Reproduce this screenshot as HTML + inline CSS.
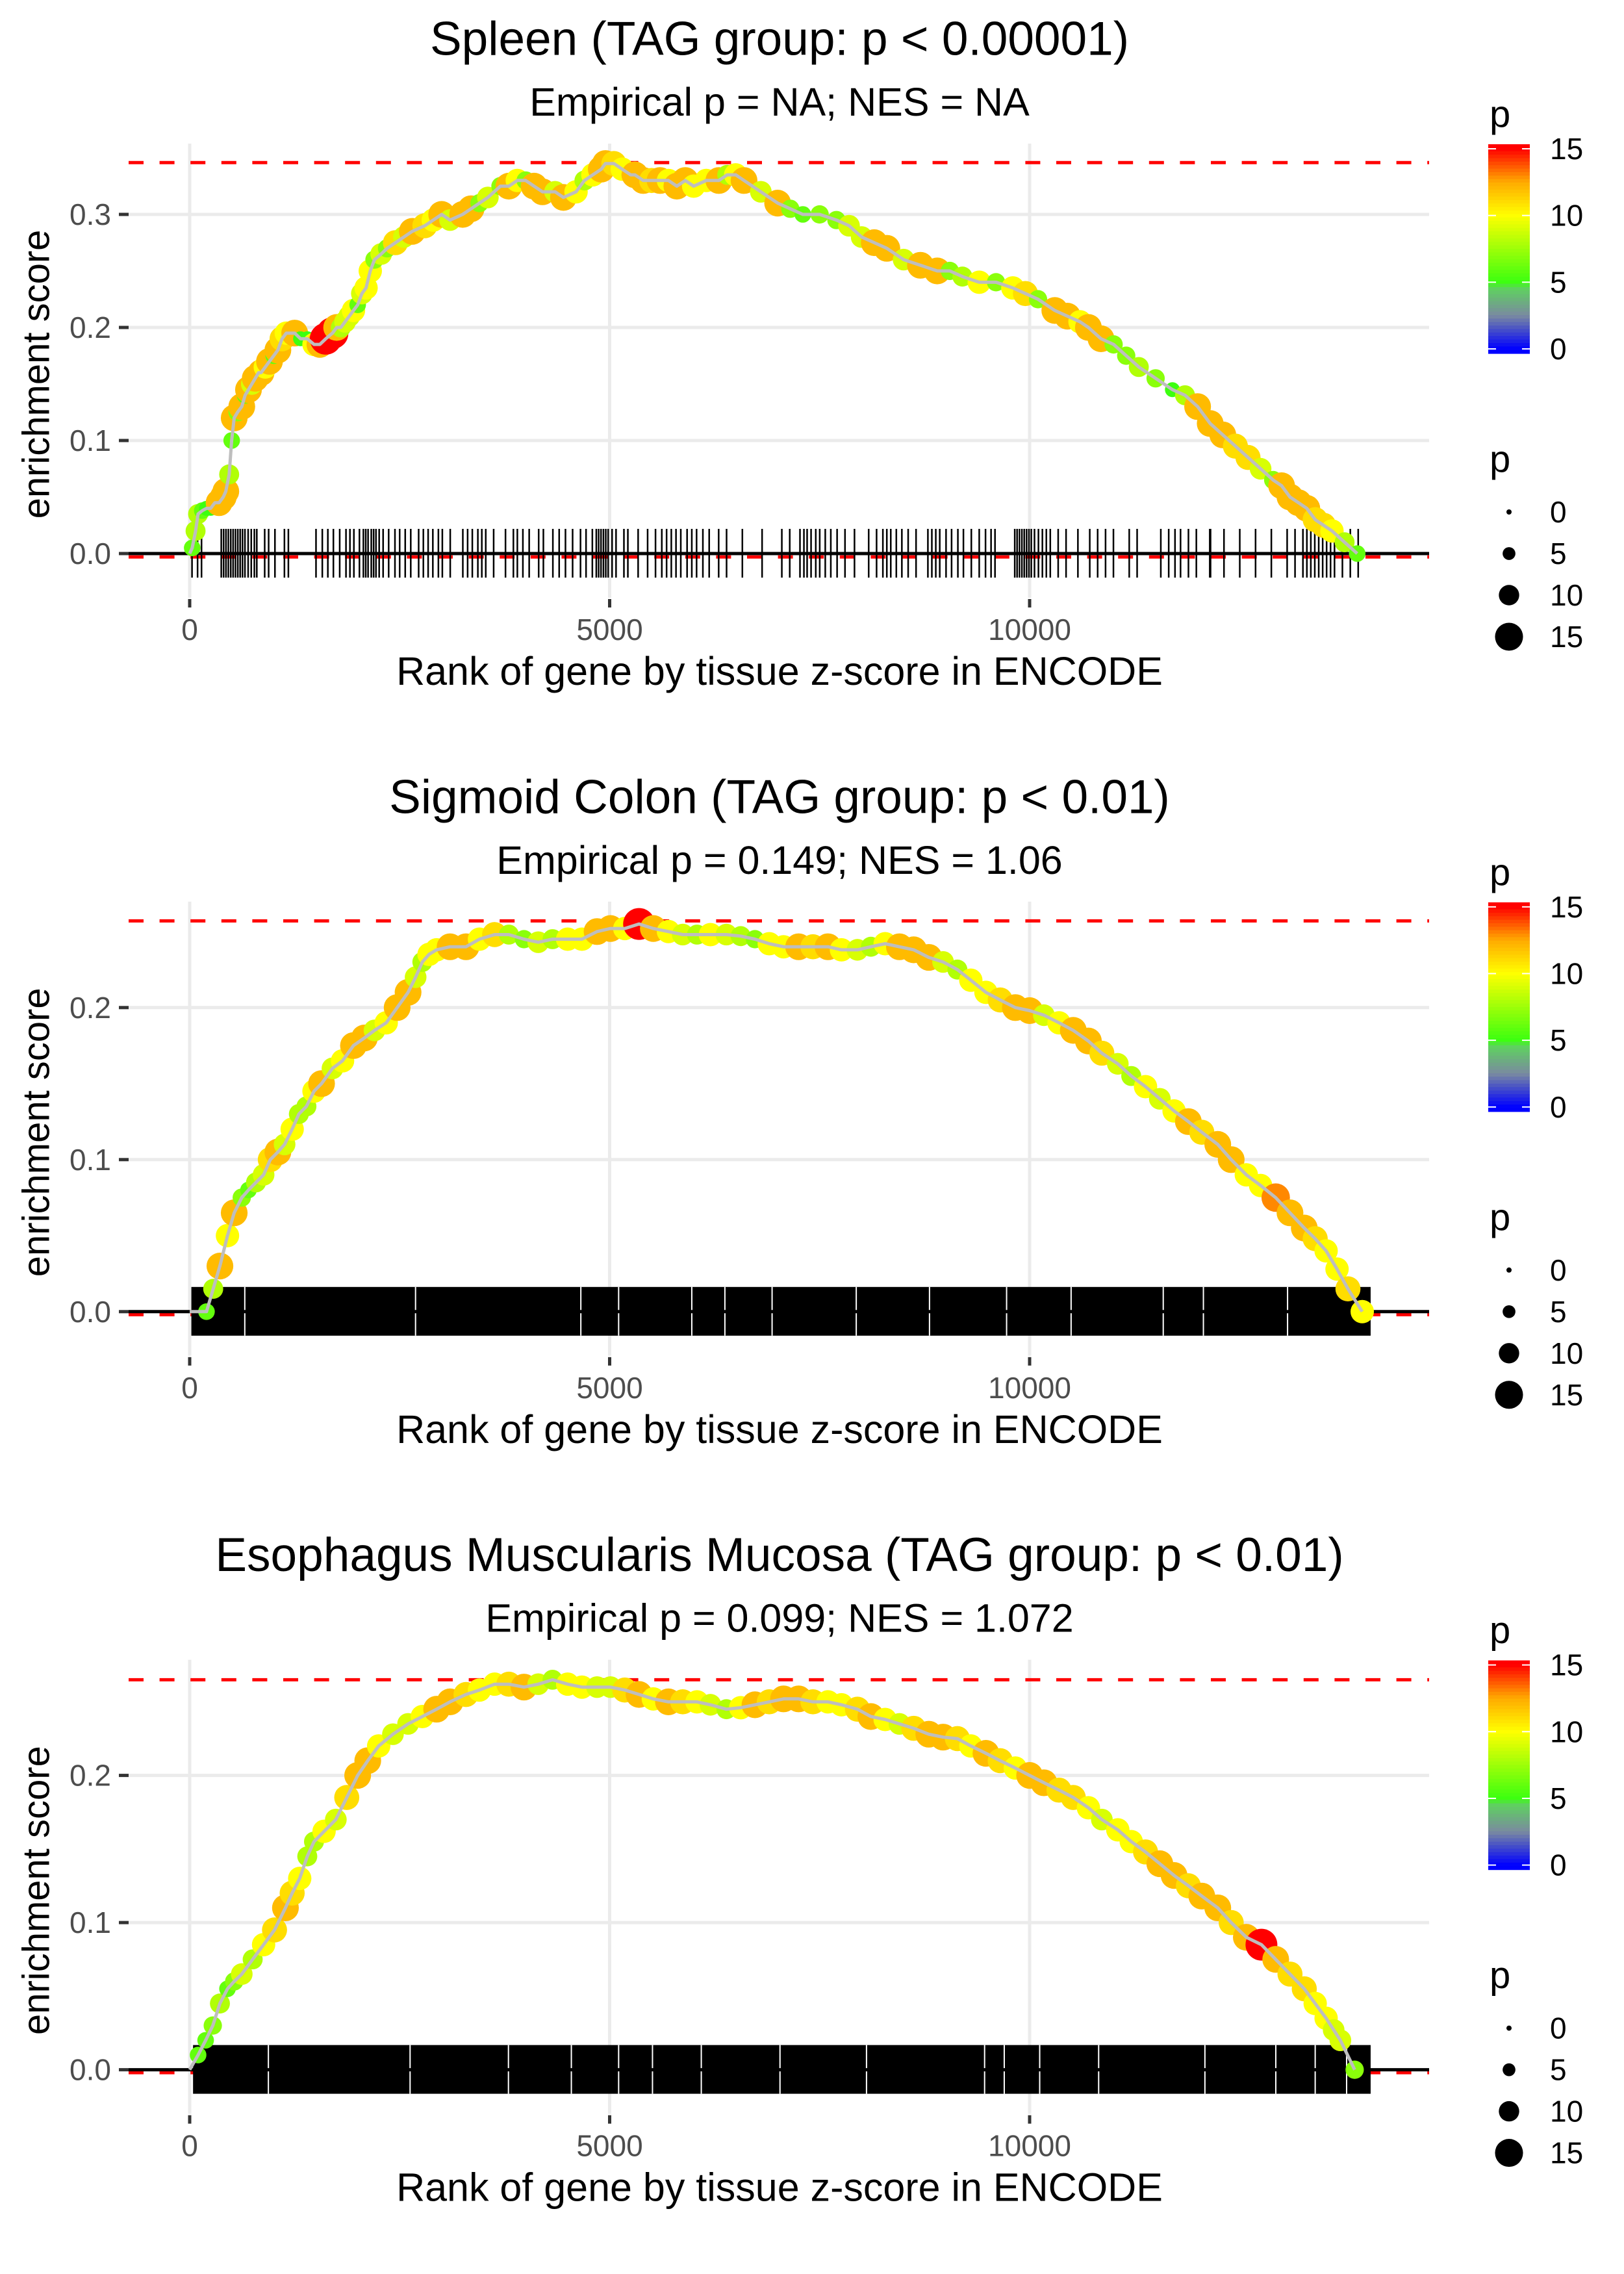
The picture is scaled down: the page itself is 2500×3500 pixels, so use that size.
<!DOCTYPE html>
<html>
<head>
<meta charset="utf-8">
<style>
  html,body{margin:0;padding:0;background:#fff;}
  svg{display:block;}
  text{font-family:"Liberation Sans",Arial,sans-serif;}
</style>
</head>
<body>
<svg id="chart" xmlns="http://www.w3.org/2000/svg" width="2500" height="3500" viewBox="0 0 2500 3500">
  <rect x="0" y="0" width="2500" height="3500" fill="#ffffff"/>
  <g id="panels"></g>
</svg>
<script>
// ---------------- DATA ----------------
const xTickValues = [0, 5000, 10000];
const xTickLabels = ["0", "5000", "10000"];
const yTickValues1 = [0, 0.1, 0.2, 0.3];
const yTickLabels1 = ["0.0", "0.1", "0.2", "0.3"];
const yTickValues2 = [0, 0.1, 0.2];
const yTickLabels2 = ["0.0", "0.1", "0.2"];
const yTickValues3 = [0, 0.1, 0.2];
const yTickLabels3 = ["0.0", "0.1", "0.2"];

const titles = ["Spleen (TAG group: p < 0.00001)", "Sigmoid Colon (TAG group: p < 0.01)", "Esophagus Muscularis Mucosa (TAG group: p < 0.01)"];
const subtitles = ["Empirical p = NA; NES = NA", "Empirical p = 0.149; NES = 1.06", "Empirical p = 0.099; NES = 1.072"];
const maxES = [0.3458, 0.257, 0.265];
const minES = [-0.003, -0.002, -0.002];

const ranks1 = [30,70,100,150,200,250,300,350,400,430,
 470,500,530,570,620,660,700,740,780,820,
 850,900,950,1000,1050,1100,1150,1200,1250,1320,
 1400,1480,1550,1620,1700,1750,1800,1850,1900,1950,
 2000,2050,2100,2150,2200,2280,2350,2450,2550,2650,
 2800,2900,3000,3100,3250,3350,3450,3550,3700,3800,
 3900,4000,4100,4200,4350,4450,4600,4700,4800,4900,
 4950,5050,5150,5250,5300,5400,5500,5600,5700,5800,
 5900,6000,6150,6300,6400,6500,6600,6800,7000,7150,
 7300,7500,7700,7850,8000,8150,8300,8500,8700,8900,
 9050,9200,9400,9600,9800,9950,10100,10300,10450,10600,
 10700,10850,11000,11150,11300,11500,11700,11850,12000,12150,
 12300,12450,12600,12750,12900,13000,13100,13200,13300,13400,
 13500,13600,13750,13900];
const es1 = [.005,.02,.035,.038,.04,.04,.045,.045,.05,.055,
 .07,.1,.12,.125,.13,.14,.145,.15,.155,.16,
 .16,.165,.17,.175,.18,.19,.195,.195,.195,.19,
 .19,.185,.185,.19,.195,.2,.2,.205,.21,.215,
 .22,.23,.235,.25,.26,.265,.27,.275,.28,.285,
 .29,.295,.3,.295,.3,.305,.31,.315,.325,.325,
 .33,.33,.325,.32,.32,.315,.32,.33,.335,.34,
 .345,.345,.34,.335,.335,.33,.33,.33,.33,.325,
 .33,.325,.33,.33,.335,.335,.33,.32,.31,.305,
 .3,.3,.295,.29,.28,.275,.27,.26,.255,.25,
 .25,.245,.24,.24,.235,.23,.225,.215,.21,.205,
 .2,.19,.185,.175,.165,.155,.145,.14,.13,.115,
 .105,.095,.085,.075,.065,.06,.05,.045,.04,.03,
 .025,.02,.01,0];
const p1 = [6,8,8,6,5,5,7,12,12,12,
 8,6,12,7,12,6,12,9,12,8,
 12,10,12,6,12,11,10,10,12,5,
 5,10,12,15,15,12,8,9,9,10,
 6,9,10,10,7,9,7,11,9,12,
 11,10,12,9,12,12,7,9,7,12,
 10,7,12,12,9,12,10,8,10,12,
 12,11,10,7,12,12,11,12,10,12,
 12,10,10,12,8,10,12,9,12,7,
 6,7,7,9,9,12,12,9,12,12,
 7,8,10,7,10,11,7,12,12,10,
 12,12,7,7,8,7,5,8,12,12,
 12,11,11,9,7,12,12,12,12,11,
 11,10,8,6];

const ranks2 = [200,280,360,450,530,620,700,790,880,960,
 1050,1130,1220,1300,1390,1480,1570,1700,1820,1950,
 2080,2200,2340,2470,2600,2690,2770,2850,2940,3100,
 3290,3450,3630,3800,3980,4150,4320,4500,4670,4850,
 5010,5180,5350,5520,5700,5870,6040,6200,6390,6560,
 6730,6900,7070,7250,7420,7600,7760,7950,8110,8280,
 8450,8620,8800,8970,9140,9300,9480,9650,9830,10000,
 10170,10350,10520,10700,10860,11050,11210,11380,11550,11720,
 11890,12050,12240,12400,12580,12750,12930,13100,13270,13400,
 13530,13660,13790,13960];
const es2 = [0,.015,.03,.05,.065,.075,.08,.085,.09,.1,
 .105,.11,.12,.13,.135,.145,.15,.16,.165,.175,
 .18,.185,.19,.2,.21,.22,.23,.235,.238,.24,
 .24,.245,.248,.248,.245,.243,.245,.245,.245,.25,
 .252,.252,.255,.252,.25,.248,.248,.248,.248,.247,
 .245,.242,.24,.24,.24,.24,.238,.238,.24,.242,
 .24,.238,.233,.23,.225,.218,.21,.205,.2,.198,
 .195,.19,.185,.178,.17,.163,.155,.148,.14,.132,
 .125,.118,.11,.1,.09,.083,.075,.065,.055,.048,
 .04,.028,.015,0];
const p2 = [6,8,12,10,12,7,6,8,9,11,
 12,9,10,8,8,10,12,9,10,12,
 12,9,10,12,12,9,8,10,10,12,
 12,10,11,8,7,9,8,10,10,12,
 12,10,15,12,10,9,8,10,9,8,
 7,10,10,12,11,12,10,9,8,10,
 12,12,12,9,8,10,10,11,12,12,
 9,10,12,12,11,9,8,10,9,10,
 12,11,12,12,10,10,13,12,12,11,
 10,10,11,10];

const ranks3 = [100,190,275,360,450,530,620,750,880,1010,
 1140,1220,1310,1400,1480,1600,1740,1870,2000,2120,
 2250,2420,2600,2770,2940,3100,3290,3450,3630,3800,
 3980,4150,4320,4500,4670,4850,5010,5180,5350,5520,
 5700,5870,6040,6200,6390,6560,6730,6900,7070,7250,
 7420,7600,7760,7950,8110,8280,8450,8620,8800,8970,
 9140,9300,9480,9650,9830,10000,10170,10350,10520,10700,
 10860,11050,11210,11380,11550,11720,11890,12050,12240,12400,
 12580,12760,12930,13100,13270,13400,13530,13620,13700,13870];
const es3 = [.01,.02,.03,.045,.055,.06,.065,.075,.085,.095,
 .11,.12,.13,.145,.155,.162,.17,.185,.2,.21,
 .22,.228,.235,.24,.245,.25,.255,.258,.262,.262,
 .26,.262,.265,.262,.26,.26,.26,.258,.255,.252,
 .25,.25,.25,.248,.245,.246,.248,.25,.252,.252,
 .25,.25,.248,.245,.24,.238,.235,.232,.228,.226,
 .225,.22,.215,.21,.205,.2,.195,.19,.185,.178,
 .17,.163,.155,.148,.14,.132,.125,.118,.11,.1,
 .09,.085,.075,.065,.055,.045,.035,.027,.02,0];
const p3 = [6,6,7,8,6,7,9,8,10,11,
 12,11,10,8,8,10,9,11,12,12,
 10,9,9,10,12,12,11,10,10,11,
 12,9,8,10,10,9,9,11,12,10,
 12,11,10,9,8,10,12,11,12,12,
 11,10,10,11,12,10,9,11,12,12,
 11,10,12,11,10,12,12,11,11,10,
 9,10,10,11,12,12,11,12,12,11,
 12,15,12,11,11,10,10,9,9,7];

// rug (gene ranks) for panel 1
const rug1 = [28,94,141,376,404,432,460,489,517,545,573,601,629,658,696,733,770,799,893,940,1015,1128,1175,1504,1579,1645,1711,1786,1861,1908,1955,2021,2068,2096,2124,2162,2190,2218,2256,2303,2369,2444,2500,2566,2632,2726,2782,2839,2895,2961,3008,3102,3252,3309,3365,3431,3478,3525,3619,3760,3854,3901,3967,4042,4155,4211,4324,4399,4474,4559,4653,4719,4794,4841,4869,4897,4926,4954,4982,5029,5076,5170,5217,5339,5452,5546,5621,5678,5734,5790,5847,5922,5978,6035,6110,6185,6298,6392,6580,6815,7050,7144,7266,7313,7351,7398,7454,7501,7567,7633,7708,7802,7915,8084,8178,8253,8300,8347,8413,8479,8554,8648,8789,8836,8883,8930,9005,9071,9146,9212,9306,9400,9475,9541,9588,9823,9851,9879,9908,9936,9964,9992,10020,10058,10105,10152,10199,10246,10340,10434,10575,10716,10810,10904,10998,11186,11280,11562,11656,11731,11797,11891,11985,12145,12154,12314,12502,12690,12878,13066,13160,13254,13301,13348,13395,13442,13489,13536,13583,13630,13724,13818,13912];
// dense rugs for panels 2,3: extent of the gene band + visible gaps
const rugBand2 = [20, 14060];
const rugGaps2 = [656,2689,4657,5107,5978,6372,6934,7936,8808,9726,10494,11591,12069,13071];
const rugBand3 = [40, 14060];
const rugGaps3 = [937,2624,3795,4544,5107,5510,6091,7028,8058,9464,9698,10120,10822,12087,12931,13400,13774];

const colorLegendValues = [0, 5, 10, 15];
const sizeLegendValues = [0, 5, 10, 15];

// ---------------- LAYOUT ----------------
const NS = "http://www.w3.org/2000/svg";
const PANEL_H = 1166.8;
const PL = 198, PR = 2200, X0PX = 292, PX_PER_RANK = 646.5 / 5000;
const PLOT_TOP = 221, PLOT_H = 699, ZERO_OFF = 631;
const CX = 1200;
const yPxPerUnit = [1740, 2340, 2265];

function xScale(r){ return X0PX + r * PX_PER_RANK; }
function mk(tag, attrs, parent){
  const el = document.createElementNS(NS, tag);
  for (const k in attrs) el.setAttribute(k, attrs[k]);
  if (parent) parent.appendChild(el);
  return el;
}
const stops = [[0,[0,0,255]],[2.5,[122,138,160]],[4.5,[95,208,96]],[5,[60,255,16]],[10,[255,255,0]],[12.5,[255,170,0]],[15,[255,0,0]]];
function pColor(p){
  p = Math.max(0, Math.min(15, p));
  for (let i=0;i<stops.length-1;i++){
    const a=stops[i], b=stops[i+1];
    if (p<=b[0]){
      const t=(p-a[0])/(b[0]-a[0]);
      const c=a[1].map((v,j)=>Math.round(v+(b[1][j]-v)*t));
      return "rgb("+c.join(",")+")";
    }
  }
  return "rgb(255,0,0)";
}
function pRadius(p){ return 5 + 1.3 * p; }
function legendRadius(p){ return 4 + 1.17 * p; }

const panelsG = document.getElementById("panels");
const panelData = [
  {ranks: ranks1, es: es1, p: p1, yt: yTickValues1, yl: yTickLabels1},
  {ranks: ranks2, es: es2, p: p2, yt: yTickValues2, yl: yTickLabels2},
  {ranks: ranks3, es: es3, p: p3, yt: yTickValues3, yl: yTickLabels3}
];

panelData.forEach((pd, i) => {
  const off = i * PANEL_H;
  const g = mk("g", {transform: "translate(0," + off.toFixed(1) + ")"}, panelsG);
  
  
  const y0 = PLOT_TOP + ZERO_OFF;
  const k = yPxPerUnit[i];
  const yScale = v => y0 - v * k;

  const t = mk("text", {x: CX, y: 60, "font-size": 73, "text-anchor": "middle", "dominant-baseline": "central", fill: "#000"}, g);
  t.textContent = titles[i];
  
  
  const st = mk("text", {x: CX, y: 157, "font-size": 61, "text-anchor": "middle", "dominant-baseline": "central", fill: "#000"}, g);
  st.textContent = subtitles[i];
  
  

  const grid = mk("g", {}, g);
  
  
  pd.yt.forEach(v => {
    const ln = mk("line", {x1: PL, x2: PR, y1: yScale(v), y2: yScale(v), stroke: "#ebebeb", "stroke-width": 5}, grid);
    
    
  });
  xTickValues.forEach(v => {
    const ln = mk("line", {x1: xScale(v), x2: xScale(v), y1: PLOT_TOP, y2: PLOT_TOP + PLOT_H, stroke: "#ebebeb", "stroke-width": 5}, grid);
    
    
  });

  pd.yt.forEach((v, j) => {
    const tk = mk("line", {x1: 183, x2: 198, y1: yScale(v), y2: yScale(v), stroke: "#333", "stroke-width": 5}, g);
    
    
    const lb = mk("text", {x: 171, y: yScale(v), "font-size": 46, "text-anchor": "end", "dominant-baseline": "central", fill: "#4d4d4d"}, g);
    lb.textContent = pd.yl[j];
    
    
  });
  xTickValues.forEach((v, j) => {
    const tk = mk("line", {x1: xScale(v), x2: xScale(v), y1: PLOT_TOP + PLOT_H + 2, y2: PLOT_TOP + PLOT_H + 15, stroke: "#333", "stroke-width": 5}, g);
    
    
    const lb = mk("text", {x: xScale(v), y: 969, "font-size": 46, "text-anchor": "middle", "dominant-baseline": "central", fill: "#4d4d4d"}, g);
    lb.textContent = xTickLabels[j];
    
    
  });
  const xt = mk("text", {x: CX, y: 1033, "font-size": 61, "text-anchor": "middle", "dominant-baseline": "central", fill: "#000"}, g);
  xt.textContent = "Rank of gene by tissue z-score in ENCODE";
  
  
  const yt = mk("text", {x: 0, y: 0, "font-size": 58, "text-anchor": "middle", "dominant-baseline": "central", fill: "#000", transform: "translate(56," + (PLOT_TOP + 355) + ") rotate(-90)"}, g);
  yt.textContent = "enrichment score";
  
  

  [maxES[i], minES[i]].forEach((v, j) => {
    const dl = mk("line", {x1: PL, x2: PR, y1: yScale(v), y2: yScale(v), stroke: "#ff0000", "stroke-width": 5, "stroke-dasharray": "23 24.6"}, g);
    
    
  });

  const rugG = mk("g", {}, g);
  
  
  const rTop = y0 - 38, rBot = y0 + 37;
  if (i === 0) {
    rug1.forEach(r => {
      const ln = mk("line", {x1: xScale(r), x2: xScale(r), y1: rTop, y2: rBot, stroke: "#000", "stroke-width": 2.5}, rugG);
      
      
    });
  } else {
    const band = i === 1 ? rugBand2 : rugBand3;
    const gaps = i === 1 ? rugGaps2 : rugGaps3;
    const rc = mk("rect", {x: xScale(band[0]), y: rTop, width: xScale(band[1]) - xScale(band[0]), height: rBot - rTop, fill: "#000"}, rugG);
    
    
    gaps.forEach(r => {
      const ln = mk("line", {x1: xScale(r), x2: xScale(r), y1: rTop, y2: rBot, stroke: "#fff", "stroke-width": 2}, rugG);
      
      
    });
  }
  const zl = mk("line", {x1: PL, x2: PR, y1: y0, y2: y0, stroke: "#000", "stroke-width": 5}, g);
  
  

  const ptsG = mk("g", {}, g);
  
  
  pd.ranks.forEach((r, j) => {
    const c = mk("circle", {cx: xScale(r), cy: yScale(pd.es[j]), r: pRadius(pd.p[j]), fill: pColor(pd.p[j])}, ptsG);
    
    
  });
  let d = "M" + xScale(0) + "," + yScale(0);
  pd.ranks.forEach((r, j) => { d += " L" + xScale(r).toFixed(1) + "," + yScale(pd.es[j]).toFixed(1); });
  const path = mk("path", {d: d, fill: "none", stroke: "#bebebe", "stroke-width": 5, "stroke-linejoin": "round"}, g);
  
  

  const lg = mk("g", {}, g);
  
  
  const lt = mk("text", {x: 2293, y: 176, "font-size": 58, "dominant-baseline": "central", fill: "#000"}, lg);
  lt.textContent = "p";
  
  
  const barTop = 222, barBot = 544, v15 = 229, v0 = 537;
  const vPx = v => v0 - (v0 - v15) * v / 15;
  const nSeg = 60;
  for (let s = 0; s < nSeg; s++) {
    const ya = barTop + (barBot - barTop) * s / nSeg;
    const val = (v0 - (ya + (barBot - barTop) / nSeg / 2)) / (v0 - v15) * 15;
    const seg = mk("rect", {x: 2291, y: ya, width: 64, height: (barBot - barTop) / nSeg + 0.6, fill: pColor(val)}, lg);
    
    
  }
  colorLegendValues.forEach(v => {
    [[2291, 2303], [2343, 2355]].forEach(xx => {
      const tk = mk("line", {x1: xx[0], x2: xx[1], y1: vPx(v), y2: vPx(v), stroke: "#fff", "stroke-width": 2}, lg);
      
      
    });
    const lb = mk("text", {x: 2386, y: vPx(v), "font-size": 46, "dominant-baseline": "central", fill: "#000"}, lg);
    lb.textContent = String(v);
    
    
  });

  const sg = mk("g", {}, g);
  
  
  const sTitle = mk("text", {x: 2293, y: 707, "font-size": 58, "dominant-baseline": "central", fill: "#000"}, sg);
  sTitle.textContent = "p";
  
  
  sizeLegendValues.forEach((v, j) => {
    const yy = 788 + j * 64;
    const c = mk("circle", {cx: 2323, cy: yy, r: legendRadius(v), fill: "#000"}, sg);
    
    
    const lb = mk("text", {x: 2386, y: yy, "font-size": 46, "dominant-baseline": "central", fill: "#000"}, sg);
    lb.textContent = String(v);
    
    
  });
});
</script>
</body>
</html>
